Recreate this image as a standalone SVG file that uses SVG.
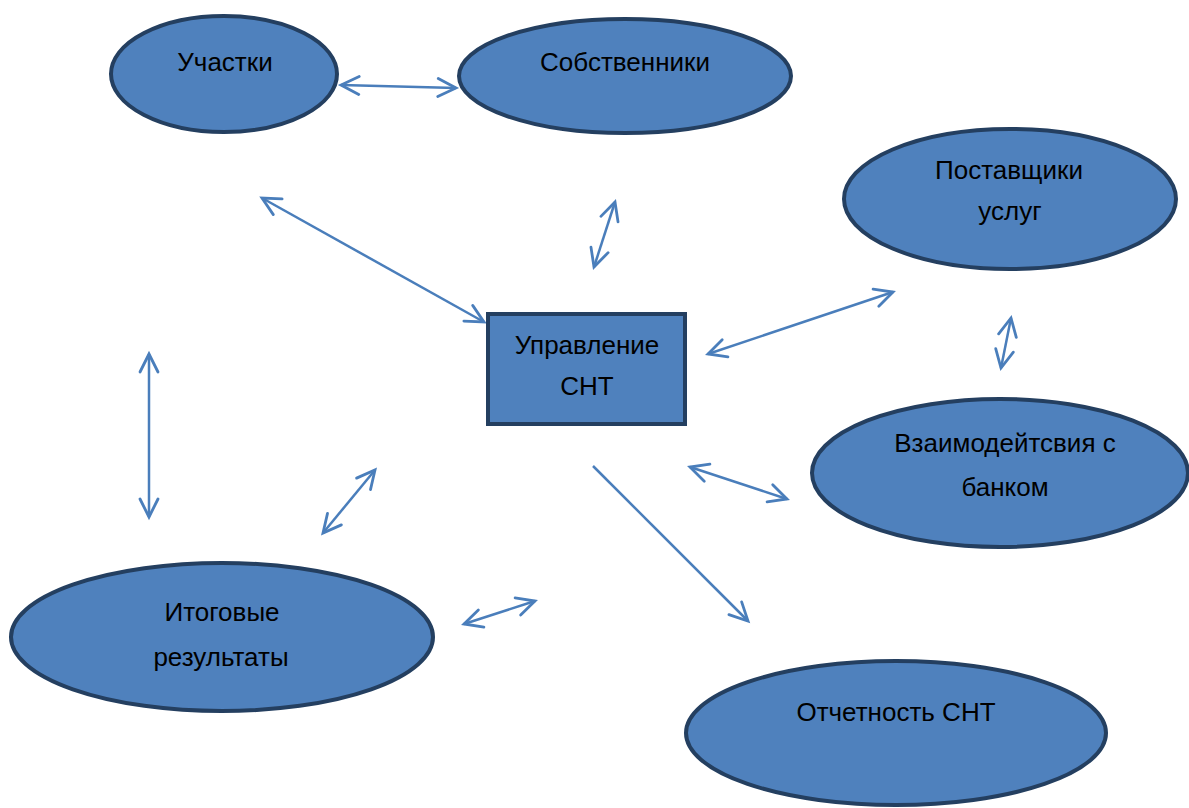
<svg xmlns="http://www.w3.org/2000/svg" width="1189" height="808" viewBox="0 0 1189 808">
<style>
.n{fill:#4f81bd;stroke:#243f60;stroke-width:4}
.t{font-family:"Liberation Sans","Open Sans",sans-serif;font-size:26px;fill:#000;text-anchor:middle}
.c{stroke:#4a7ebb;stroke-width:2.5;fill:none}
</style>
<defs>
<marker id="a" viewBox="-20 -12 24 24" markerWidth="24" markerHeight="24" refX="0" refY="0" markerUnits="userSpaceOnUse" orient="auto-start-reverse">
<path d="M-18,-9 L0,0 L-18,9" fill="none" stroke="#4a7ebb" stroke-width="2.8" stroke-linecap="round" stroke-linejoin="miter"/>
</marker>
</defs>
<rect width="1189" height="808" fill="#fff"/>
<g id="connectors">
<line class="c" x1="341" y1="85" x2="456" y2="88" marker-start="url(#a)" marker-end="url(#a)"/>
<line class="c" x1="262" y1="198" x2="484" y2="322" marker-start="url(#a)" marker-end="url(#a)"/>
<line class="c" x1="615" y1="202" x2="594" y2="267" marker-start="url(#a)" marker-end="url(#a)"/>
<line class="c" x1="893" y1="292" x2="708" y2="354" marker-start="url(#a)" marker-end="url(#a)"/>
<line class="c" x1="1011" y1="318" x2="1001" y2="368" marker-start="url(#a)" marker-end="url(#a)"/>
<line class="c" x1="690" y1="467" x2="787" y2="499" marker-start="url(#a)" marker-end="url(#a)"/>
<line class="c" x1="593" y1="466" x2="748" y2="621" marker-end="url(#a)"/>
<line class="c" x1="149" y1="354" x2="149" y2="517" marker-start="url(#a)" marker-end="url(#a)"/>
<line class="c" x1="375" y1="470" x2="323" y2="533" marker-start="url(#a)" marker-end="url(#a)"/>
<line class="c" x1="535" y1="601" x2="464" y2="624" marker-start="url(#a)" marker-end="url(#a)"/>
</g>
<g id="uchastki">
<ellipse class="n" cx="224" cy="74" rx="113" ry="58"/>
<text class="t" x="225" y="71">Участки</text>
</g>
<g id="sobstvenniki">
<ellipse class="n" cx="625" cy="76" rx="166" ry="57"/>
<text class="t" x="625" y="71">Собственники</text>
</g>
<g id="postavshchiki">
<ellipse class="n" cx="1010" cy="199" rx="166" ry="70"/>
<text class="t" x="1009" y="179">Поставщики</text>
<text class="t" x="1010" y="220">услуг</text>
</g>
<g id="upravlenie">
<rect class="n" x="488" y="314" width="197" height="110"/>
<text class="t" x="587" y="354">Управление</text>
<text class="t" x="587" y="395">СНТ</text>
</g>
<g id="bank">
<ellipse class="n" cx="1000" cy="473" rx="188" ry="74"/>
<text class="t" x="1005" y="452">Взаимодейтсвия с</text>
<text class="t" x="1005" y="496">банком</text>
</g>
<g id="itogi">
<ellipse class="n" cx="222" cy="637" rx="211" ry="74"/>
<text class="t" x="222" y="621">Итоговые</text>
<text class="t" x="221" y="666">результаты</text>
</g>
<g id="otchetnost">
<ellipse class="n" cx="896" cy="733" rx="210" ry="72"/>
<text class="t" x="896" y="721">Отчетность СНТ</text>
</g>
</svg>
